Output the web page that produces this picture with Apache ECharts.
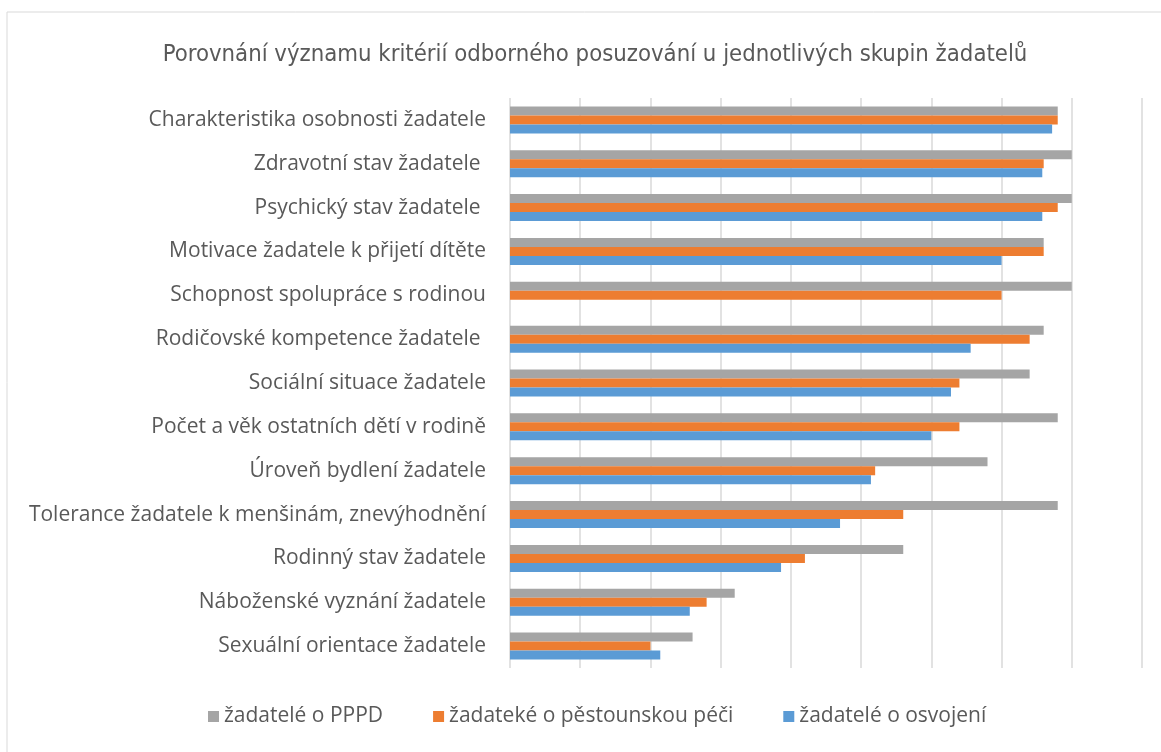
<!DOCTYPE html>
<html>
<head>
<meta charset="utf-8">
<script src="https://cdn.jsdelivr.net/npm/echarts@6/dist/echarts.min.js"></script>
<style>
  html, body { margin: 0; padding: 0; background: #fff; }
  #chart { width: 1161px; height: 752px; }
</style>
</head>
<body>
<div id="chart"></div>
<script>
// kritéria (shora dolů)
const categories = [
  "Charakteristika osobnosti žadatele",
  "Zdravotní stav žadatele ",
  "Psychický stav žadatele ",
  "Motivace žadatele k přijetí dítěte",
  "Schopnost spolupráce s rodinou",
  "Rodičovské kompetence žadatele ",
  "Sociální situace žadatele",
  "Počet a věk ostatních dětí v rodině",
  "Úroveň bydlení žadatele",
  "Tolerance žadatele k menšinám, znevýhodnění",
  "Rodinný stav žadatele",
  "Náboženské vyznání žadatele",
  "Sexuální orientace žadatele"
];
const seriesNames = [
  "žadatelé o PPPD",
  "žadateké o pěstounskou péči",
  "žadatelé o osvojení"
];
const pppd = [3.9, 4.0, 4.0, 3.8, 4.0, 3.8, 3.7, 3.9, 3.4, 3.9, 2.8, 1.6, 1.3];
const pestouni = [3.9, 3.8, 3.9, 3.8, 3.5, 3.7, 3.2, 3.2, 2.6, 2.8, 2.1, 1.4, 1.0];
const osvojeni = [3.86, 3.79, 3.79, 3.5, 0, 3.28, 3.14, 3.0, 2.57, 2.35, 1.93, 1.28, 1.07];
const colors = ["#a5a5a5", "#ed7d31", "#5b9bd5"];

const myChart = echarts.init(document.getElementById("chart"));
const dataSets = [pppd, pestouni, osvojeni];
let series = [];
for (let i = 0; i < dataSets.length; i++) {
  series.push({
    name: seriesNames[i],
    type: "bar",
    barWidth: 9,
    barGap: "0%",
    itemStyle: { color: colors[i] },
    data: dataSets[i]
  });
}
const option = {
  backgroundColor: "#fff",
  animation: false,
  color: colors,
  graphic: [
    {
      type: "rect",
      shape: { x: 7, y: 12, width: 1200, height: 800 },
      style: { fill: "none", stroke: "#d9d9d9", lineWidth: 1 },
      silent: true
    }
  ],
  title: {
    text: "Porovnání významu kritérií odborného posuzování u jednotlivých skupin žadatelů",
    left: 590,
    textAlign: "center",
    top: 38,
    textStyle: {
      fontFamily: "'DejaVu Sans Condensed', 'Liberation Sans', sans-serif",
      fontWeight: "normal",
      fontSize: 23.7,
      color: "#595959"
    }
  },
  legend: {
    bottom: 20,
    left: 203,
    icon: "rect",
    itemWidth: 11,
    itemHeight: 11,
    itemGap: 50,
    textStyle: { fontFamily: "Open Sans", fontSize: 21, color: "#595959" },
    data: seriesNames
  },
  grid: { left: 510, right: 19, top: 98, bottom: 84, containLabel: false },
  xAxis: {
    type: "value",
    min: 0,
    max: 4.5,
    interval: 0.5,
    axisLabel: { show: false },
    axisLine: { show: false },
    axisTick: { show: false },
    splitLine: { lineStyle: { color: "#d9d9d9", width: 1.5 } }
  },
  yAxis: {
    type: "category",
    inverse: true,
    data: categories,
    axisLine: { show: false },
    axisTick: { show: false },
    axisLabel: {
      margin: 24,
      fontFamily: "Open Sans",
      fontSize: 21,
      color: "#595959"
    }
  },
  series: series
};
myChart.setOption(option);
</script>
</body>
</html>
